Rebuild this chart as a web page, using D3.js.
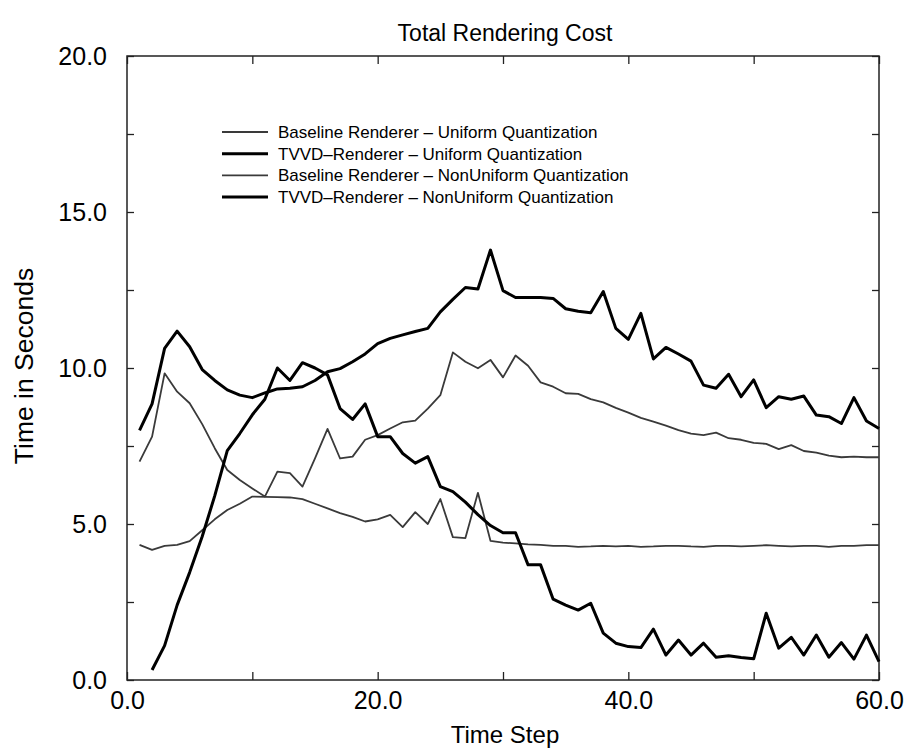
<!DOCTYPE html>
<html>
<head>
<meta charset="utf-8">
<script src="https://cdn.jsdelivr.net/npm/d3@7/dist/d3.min.js"></script>
<style>
  body { margin: 0; background: #fff; }
  svg text { font-family: "Liberation Sans", Arial, Helvetica, sans-serif; fill: #000; }
</style>
</head>
<body>
<svg width="909" height="754"></svg>
<script>
// time steps 1..60
var timeSteps = [1,2,3,4,5,6,7,8,9,10,11,12,13,14,15,16,17,18,19,20,
                 21,22,23,24,25,26,27,28,29,30,31,32,33,34,35,36,37,38,39,40,
                 41,42,43,44,45,46,47,48,49,50,51,52,53,54,55,56,57,58,59,60];

var baselineUniform = [4.33,4.17,4.3,4.33,4.45,4.8,5.15,5.45,5.65,5.88,
                       5.87,5.86,5.85,5.8,5.65,5.5,5.35,5.23,5.08,5.15,
                       5.29,4.9,5.38,5.0,5.8,4.58,4.55,6.0,4.46,4.4,
                       4.38,4.35,4.33,4.3,4.3,4.27,4.28,4.3,4.28,4.3,
                       4.27,4.28,4.3,4.3,4.28,4.27,4.3,4.3,4.28,4.3,
                       4.32,4.3,4.28,4.3,4.3,4.27,4.3,4.3,4.32,4.32];

var tvvdUniform = [8.0,8.85,10.63,11.18,10.68,9.95,9.6,9.3,9.13,9.05,
                   9.2,9.33,9.35,9.4,9.6,9.88,9.98,10.2,10.45,10.78,
                   10.95,11.06,11.17,11.27,11.8,12.2,12.58,12.53,13.78,12.48,
                   12.26,12.26,12.26,12.23,11.9,11.82,11.77,12.45,11.27,10.92,
                   11.75,10.29,10.66,10.45,10.22,9.45,9.35,9.8,9.08,9.62,
                   8.73,9.08,9.0,9.1,8.49,8.44,8.22,9.05,8.3,8.06];

var baselineNonUniform = [7.0,7.8,9.83,9.24,8.87,8.2,7.43,6.73,6.41,6.14,
                          5.88,6.68,6.63,6.2,7.1,8.05,7.1,7.16,7.7,7.85,
                          8.06,8.26,8.31,8.7,9.13,10.5,10.2,9.99,10.26,9.7,
                          10.4,10.07,9.54,9.4,9.19,9.17,9.0,8.9,8.72,8.57,
                          8.4,8.28,8.15,8.01,7.9,7.85,7.93,7.75,7.7,7.6,
                          7.57,7.4,7.53,7.34,7.29,7.19,7.14,7.16,7.14,7.14];

// no value at the first step
var tvvdNonUniform = [null,0.32,1.1,2.4,3.45,4.6,5.9,7.35,7.9,8.5,
                      9.0,10.0,9.6,10.17,10.0,9.78,8.7,8.35,8.85,7.8,
                      7.8,7.26,6.95,7.16,6.2,6.04,5.7,5.3,4.95,4.72,
                      4.72,3.69,3.69,2.59,2.4,2.24,2.46,1.5,1.18,1.07,
                      1.04,1.63,0.8,1.28,0.8,1.18,0.73,0.78,0.72,0.68,
                      2.14,1.02,1.37,0.8,1.44,0.73,1.2,0.67,1.44,0.59];

var xTicks = [0,10,20,30,40,50,60];
var xTickLabels = [0,20,40,60];
var yTicks = [0,2.5,5,7.5,10,12.5,15,17.5,20];
var yTickLabels = [0,5,10,15,20];

var legendLabels = ["Baseline Renderer \u2013 Uniform Quantization",
                    "TVVD\u2013Renderer \u2013 Uniform Quantization",
                    "Baseline Renderer \u2013 NonUniform Quantization",
                    "TVVD\u2013Renderer \u2013 NonUniform Quantization"];

var series = [
  {values: baselineUniform, thick: false},
  {values: tvvdUniform, thick: true},
  {values: baselineNonUniform, thick: false},
  {values: tvvdNonUniform, thick: true}
];

var svg = d3.select("svg"),
    margin = {top: 56, right: 30, bottom: 74, left: 127},
    width = 909 - margin.left - margin.right,
    height = 754 - margin.top - margin.bottom;

var x = d3.scaleLinear().domain([0, 60]).range([0, width]);
var y = d3.scaleLinear().domain([0, 20]).range([height, 0]);

var g = svg.append("g")
  .attr("transform", "translate(" + margin.left + "," + margin.top + ")");

function fmt(list) {
  return function(d) { return list.indexOf(d) >= 0 ? d3.format(".1f")(d) : ""; };
}

// axes, ticks pointing into the plot on all four sides
g.append("g")
    .attr("transform", "translate(0," + height + ")")
    .call(d3.axisBottom(x).tickValues(xTicks).tickSizeInner(-8).tickSizeOuter(0)
      .tickPadding(11).tickFormat(fmt(xTickLabels)))
    .attr("font-size", 25).attr("font-family", null);

g.append("g")
    .call(d3.axisTop(x).tickValues(xTicks).tickSizeInner(-8).tickSizeOuter(0).tickFormat(""));

g.append("g")
    .call(d3.axisLeft(y).tickValues(yTicks).tickSizeInner(-7).tickSizeOuter(0)
      .tickPadding(20).tickFormat(fmt(yTickLabels)))
    .attr("font-size", 25).attr("font-family", null);

g.append("g")
    .attr("transform", "translate(" + width + ",0)")
    .call(d3.axisRight(y).tickValues(yTicks).tickSizeInner(-7).tickSizeOuter(0).tickFormat(""));

g.selectAll(".domain").remove();
g.selectAll(".tick line").attr("stroke", "#222").attr("stroke-width", 1.3);

g.append("rect")
    .attr("width", width).attr("height", height)
    .attr("fill", "none").attr("stroke", "#222").attr("stroke-width", 1.5);

// lines
var line = d3.line()
    .defined(function(d) { return d != null; })
    .x(function(d, i) { return x(timeSteps[i]); })
    .y(function(d) { return y(d); });

g.selectAll(".series")
  .data(series)
  .enter().append("path")
    .attr("class", "series")
    .attr("fill", "none")
    .attr("stroke", function(d) { return d.thick ? "#000" : "#3a3a3a"; })
    .attr("stroke-width", function(d) { return d.thick ? 3 : 1.8; })
    .attr("stroke-linejoin", "round")
    .attr("d", function(d) { return line(d.values); });

// legend
var legend = svg.append("g").attr("transform", "translate(222,132)");
var rows = legend.selectAll("g")
  .data(series)
  .enter().append("g")
    .attr("transform", function(d, i) { return "translate(0," + (i * 21.7) + ")"; });

rows.append("line")
    .attr("x1", 0).attr("x2", 46)
    .attr("stroke", function(d) { return d.thick ? "#000" : "#3a3a3a"; })
    .attr("stroke-width", function(d) { return d.thick ? 3 : 1.8; });

rows.append("text")
    .attr("x", 56).attr("dy", "0.35em")
    .attr("font-size", 17)
    .text(function(d, i) { return legendLabels[i]; });

// titles
svg.append("text")
    .attr("x", 505).attr("y", 41)
    .attr("text-anchor", "middle").attr("font-size", 23)
    .text("Total Rendering Cost");

svg.append("text")
    .attr("x", 505).attr("y", 743)
    .attr("text-anchor", "middle").attr("font-size", 24)
    .text("Time Step");

svg.append("text")
    .attr("transform", "translate(33,366) rotate(-90)")
    .attr("text-anchor", "middle").attr("font-size", 26.5)
    .text("Time in Seconds");
</script>
</body>
</html>
